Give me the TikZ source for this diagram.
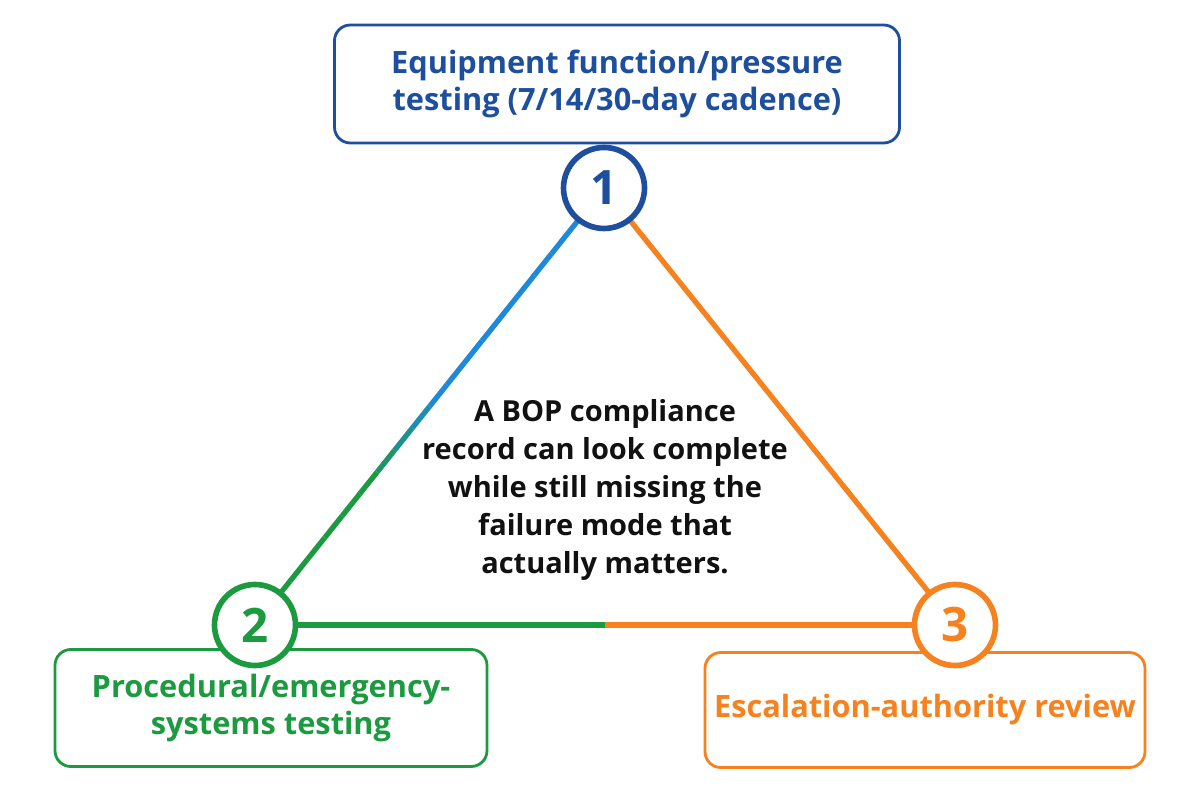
\documentclass[tikz,border=0pt]{standalone}
\usepackage{fontspec}
\setmainfont{Open Sans}
\definecolor{tdBlue}{HTML}{1D4F9E}
\definecolor{tdLine}{HTML}{1E88D9}
\definecolor{tdGreen}{HTML}{1C9A40}
\definecolor{tdOrange}{HTML}{F5821F}
\definecolor{tdText}{HTML}{111111}
\usetikzlibrary{calc,positioning}

\tikzset{
  step/.style={circle, draw=#1, line width=3.2pt, fill=white, minimum size=1.62cm,
    font=\bfseries\fontsize{27}{27}\selectfont, text=#1, inner sep=0pt},
  card/.style={draw=#1, line width=1.6pt, rounded corners=9pt, fill=white,
    font=\bfseries\fontsize{17.5}{21}\selectfont, text=#1, align=center},
  edge/.style={line width=3pt}
}

\begin{document}
\begin{tikzpicture}
  \useasboundingbox (0,0) rectangle (24,16);

  % Corner points
  \coordinate (p1) at (12.08,12.24);
  \coordinate (p2) at (5.1,3.5);
  \coordinate (p3) at (19.1,3.5);

  % Sides
  \foreach \i [evaluate=\i as \j using {int(\i+1)}, evaluate=\i as \m using {int(max(0,min(100,(\i-9)*25)))}] in {0,...,19}
    \draw[edge, tdGreen!\m!tdLine] ($(p1)!\i/20!(p2)$) -- ($(p1)!\j/20!(p2)$);
  \draw[edge, tdOrange] (p1) -- (p3);
  \draw[edge, tdGreen] (p2) -- ($(p2)!0.5!(p3)$);
  \draw[edge, tdOrange] ($(p2)!0.5!(p3)$) -- (p3);

  % Cards
  \node[card=tdBlue, minimum width=11.3cm, minimum height=2.36cm] (equip) at (12.34,14.32)
    {Equipment function/pressure\\testing (7/14/30-day cadence)};
  \node[card=tdGreen, minimum width=8.64cm, minimum height=2.34cm] (proc) at (5.42,1.84)
    {Procedural/emergency-\\systems testing};
  \node[card=tdOrange, minimum width=8.8cm, minimum height=2.3cm] (escal) at (18.5,1.8)
    {Escalation-authority review};

  % Steps
  \node[step=tdBlue] (one) at (p1) {1};
  \node[step=tdGreen] (two) at (p2) {2};
  \node[step=tdOrange] (three) at (p3) {3};

  % Centre note
  \node[font=\bfseries\fontsize{16.5}{21.5}\selectfont, text=tdText, align=center] (note) at (12.1,6.2)
    {A BOP compliance\\record can look complete\\while still missing the\\failure mode that\\actually matters.};
\end{tikzpicture}
\end{document}
